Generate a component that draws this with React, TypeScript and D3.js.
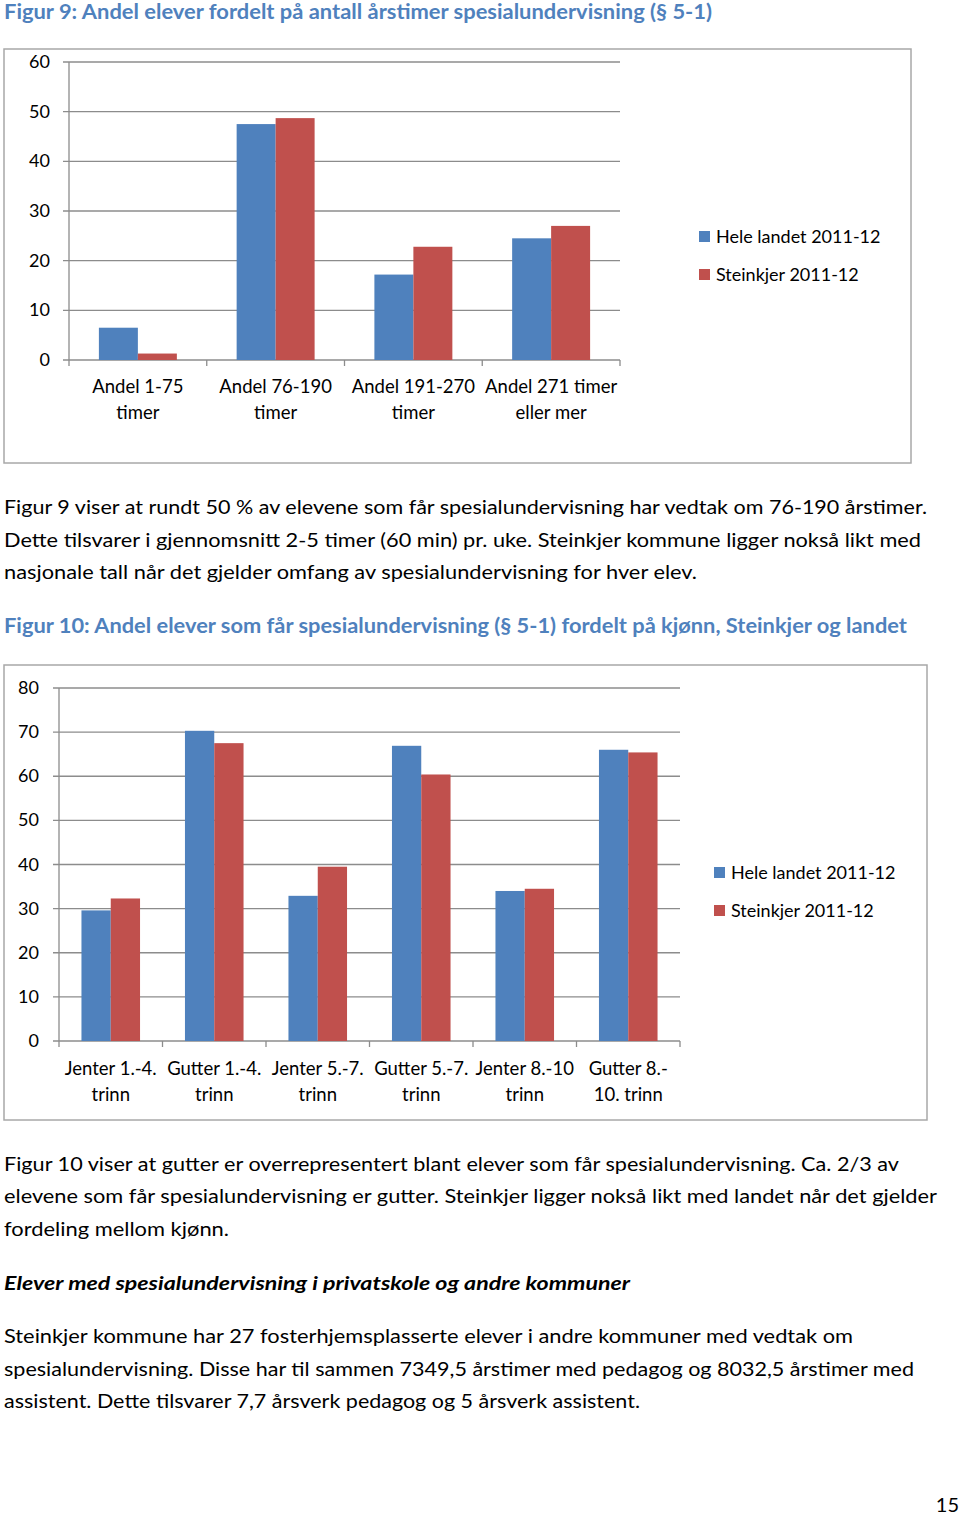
import React from "react";
import * as d3 from "d3";

// Figur 9
const hoursCats = [
  ["Andel 1-75", "timer"],
  ["Andel 76-190", "timer"],
  ["Andel 191-270", "timer"],
  ["Andel 271 timer", "eller mer"],
];
const hoursNational = [6.5, 47.5, 17.2, 24.5];
const hoursSteinkjer = [1.3, 48.7, 22.8, 27.0];
const hoursTicks = [0, 10, 20, 30, 40, 50, 60];

// Figur 10
const genderCats = [
  ["Jenter 1.-4.", "trinn"],
  ["Gutter 1.-4.", "trinn"],
  ["Jenter 5.-7.", "trinn"],
  ["Gutter 5.-7.", "trinn"],
  ["Jenter 8.-10", "trinn"],
  ["Gutter 8.-", "10. trinn"],
];
const genderNational = [29.6, 70.3, 32.9, 66.9, 34.0, 66.0];
const genderSteinkjer = [32.3, 67.5, 39.5, 60.4, 34.5, 65.4];
const genderTicks = [0, 10, 20, 30, 40, 50, 60, 70, 80];

const seriesNames = ["Hele landet 2011-12", "Steinkjer 2011-12"];
const colors = ["#4F81BD", "#C0504D"];

const FONT = "Lato, 'Open Sans', sans-serif";
const TITLE_COLOR = "#4F81BD";
const GRID = "#8c8c8c";

// text lines of the page: [text, y baseline, width]
const para1 = [
  ["Figur 9 viser at rundt 50 % av elevene som får spesialundervisning har vedtak om 76-190 årstimer.", 514, 923],
  ["Dette tilsvarer i gjennomsnitt 2-5 timer (60 min) pr. uke. Steinkjer kommune ligger nokså likt med", 547, 917],
  ["nasjonale tall når det gjelder omfang av spesialundervisning for hver elev.", 579, 693],
];
const para2 = [
  ["Figur 10 viser at gutter er overrepresentert blant elever som får spesialundervisning. Ca. 2/3 av", 1171, 895],
  ["elevene som får spesialundervisning er gutter. Steinkjer ligger nokså likt med landet når det gjelder", 1203, 933],
  ["fordeling mellom kjønn.", 1236, 225],
];
const para3 = [
  ["Steinkjer kommune har 27 fosterhjemsplasserte elever i andre kommuner med vedtak om", 1343, 849],
  ["spesialundervisning. Disse har til sammen 7349,5 årstimer med pedagog og 8032,5 årstimer med", 1376, 910],
  ["assistent. Dette tilsvarer 7,7 årsverk pedagog og 5 årsverk assistent.", 1408, 636],
];

type ChartProps = {
  cats: string[][];
  a: number[];
  b: number[];
  ticks: number[];
  box: { x: number; y: number; w: number; h: number };
  plot: { left: number; right: number; top: number; bottom: number };
  tickX: number;
  catY: number;
  legend: { x: number; y: number };
};

const BarChart = ({ cats, a, b, ticks, box, plot, tickX, catY, legend }: ChartProps) => {
  const x0 = d3
    .scaleBand<number>()
    .domain(cats.map((_, i) => i))
    .range([plot.left, plot.right])
    .padding(0);
  const bw = x0.bandwidth() * 0.283;
  const y = d3
    .scaleLinear()
    .domain([0, ticks[ticks.length - 1]])
    .range([plot.bottom, plot.top]);

  return (
    <g>
      <rect x={box.x} y={box.y} width={box.w} height={box.h} fill="#fff" stroke="#a8a8a8" strokeWidth={1.5} />
      {ticks.map((t) => (
        <g key={t}>
          <line x1={plot.left - 6} x2={plot.right} y1={y(t)} y2={y(t)} stroke={GRID} strokeWidth={1.3} />
          <text x={tickX} y={y(t) + 6} textAnchor="end" fontSize={18} fill="#000">
            {t}
          </text>
        </g>
      ))}
      <line x1={plot.left} x2={plot.left} y1={plot.top} y2={plot.bottom} stroke={GRID} strokeWidth={1.3} />
      {cats.map((c, i) => {
        const cx = (x0(i) as number) + x0.bandwidth() / 2;
        return (
          <g key={i}>
            <rect x={cx - bw} y={y(a[i])} width={bw} height={y(0) - y(a[i])} fill={colors[0]} />
            <rect x={cx} y={y(b[i])} width={bw} height={y(0) - y(b[i])} fill={colors[1]} />
            {c.map((line, j) => (
              <text key={j} x={cx} y={catY + j * 26} textAnchor="middle" fontSize={18.5} fill="#000">
                {line}
              </text>
            ))}
          </g>
        );
      })}
      {x0.domain().concat([cats.length]).map((i) => {
        const xx = i === cats.length ? plot.right : (x0(i) as number);
        return <line key={"t" + i} x1={xx} x2={xx} y1={plot.bottom} y2={plot.bottom + 6} stroke={GRID} strokeWidth={1.3} />;
      })}
      {seriesNames.map((s, i) => (
        <g key={s} transform={`translate(${legend.x},${legend.y + i * 38})`}>
          <rect x={0} y={-6} width={11} height={11} fill={colors[i]} />
          <text x={17} y={6} fontSize={18} fill="#000">
            {s}
          </text>
        </g>
      ))}
    </g>
  );
};

const TextLines = ({ lines, weight, italic }: { lines: (string | number)[][]; weight?: string; italic?: boolean }) => (
  <g>
    {lines.map(([t, yy, w]) => (
      <text
        key={t as string}
        x={4}
        y={yy as number}
        fontSize={19.5}
        fontWeight={weight}
        fontStyle={italic ? "italic" : undefined}
        textLength={w as number}
        lengthAdjust="spacingAndGlyphs"
        fill="#000"
      >
        {t}
      </text>
    ))}
  </g>
);

export default function App() {
  return (
    <svg
      width={960}
      height={1515}
      style={{ position: "absolute", left: 0, top: 0, background: "#fff" }}
      fontFamily={FONT}
    >
      <text x={4} y={19} fontSize={20} fontWeight="bold" fill={TITLE_COLOR} textLength={708} lengthAdjust="spacingAndGlyphs">
        Figur 9: Andel elever fordelt på antall årstimer spesialundervisning (§ 5-1)
      </text>
      <BarChart
        cats={hoursCats}
        a={hoursNational}
        b={hoursSteinkjer}
        ticks={hoursTicks}
        box={{ x: 4, y: 49, w: 907, h: 414 }}
        plot={{ left: 69, right: 620, top: 62, bottom: 360 }}
        tickX={50}
        catY={393}
        legend={{ x: 699, y: 237 }}
      />
      <TextLines lines={para1} />
      <text x={4} y={633} fontSize={20} fontWeight="bold" fill={TITLE_COLOR} textLength={903} lengthAdjust="spacingAndGlyphs">
        Figur 10: Andel elever som får spesialundervisning (§ 5-1) fordelt på kjønn, Steinkjer og landet
      </text>
      <BarChart
        cats={genderCats}
        a={genderNational}
        b={genderSteinkjer}
        ticks={genderTicks}
        box={{ x: 4, y: 665, w: 923, h: 455 }}
        plot={{ left: 59, right: 680, top: 688, bottom: 1041 }}
        tickX={39}
        catY={1075}
        legend={{ x: 714, y: 873 }}
      />
      <TextLines lines={para2} />
      <TextLines lines={[["Elever med spesialundervisning i privatskole og andre kommuner", 1290, 626]]} weight="bold" italic />
      <TextLines lines={para3} />
      <text x={959} y={1512} textAnchor="end" fontSize={20} fill="#000">
        15
      </text>
    </svg>
  );
}
